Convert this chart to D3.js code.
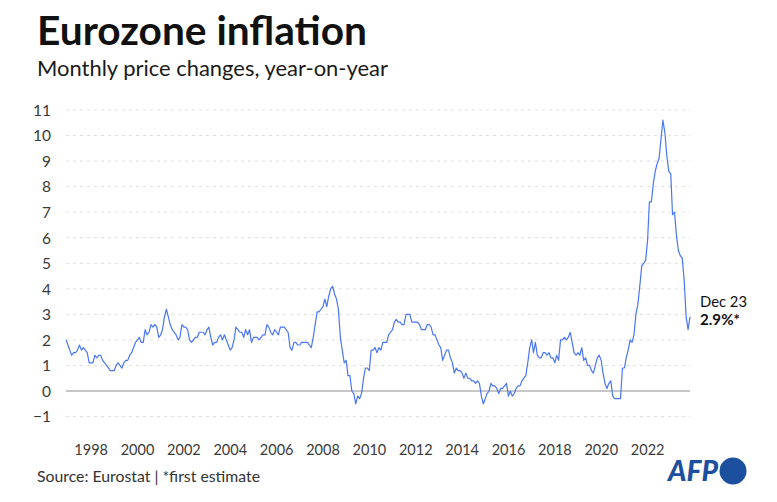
<!DOCTYPE html>
<html>
<head>
<meta charset="utf-8">
<script src="https://cdn.jsdelivr.net/npm/d3@7"></script>
<style>
  html, body { margin: 0; padding: 0; background: #fff; }
  svg { display: block; font-family: "Lato", "Noto Sans", sans-serif; }
</style>
</head>
<body>
<svg id="chart" width="777" height="502"></svg>
<script>
// ---------- DATA ----------
const startMonth = "1997-01";   // first observation
const inflation1997 = [2.0, 1.8, 1.6, 1.4, 1.5, 1.5, 1.6, 1.8, 1.6, 1.7, 1.6, 1.5];
const inflation1998 = [1.1, 1.1, 1.1, 1.4, 1.3, 1.4, 1.4, 1.2, 1.1, 1.0, 0.9, 0.8];
const inflation1999 = [0.8, 0.8, 1.0, 1.1, 1.0, 0.9, 1.1, 1.2, 1.2, 1.4, 1.5, 1.7];
const inflation2000 = [1.9, 2.0, 2.1, 1.9, 1.9, 2.4, 2.2, 2.3, 2.6, 2.5, 2.6, 2.5];
const inflation2001 = [2.1, 2.2, 2.4, 2.9, 3.2, 2.9, 2.6, 2.4, 2.3, 2.2, 2.0, 2.1];
const inflation2002 = [2.6, 2.5, 2.5, 2.4, 2.0, 1.9, 2.0, 2.1, 2.1, 2.3, 2.3, 2.3];
const inflation2003 = [2.2, 2.4, 2.5, 2.1, 1.8, 1.9, 1.9, 2.1, 2.2, 2.0, 2.2, 2.0];
const inflation2004 = [1.8, 1.6, 1.7, 2.0, 2.5, 2.4, 2.3, 2.3, 2.1, 2.4, 2.2, 2.4];
const inflation2005 = [1.9, 2.1, 2.1, 2.1, 2.0, 2.1, 2.2, 2.2, 2.6, 2.5, 2.3, 2.2];
const inflation2006 = [2.4, 2.3, 2.2, 2.5, 2.5, 2.5, 2.4, 2.3, 1.7, 1.6, 1.9, 1.9];
const inflation2007 = [1.8, 1.8, 1.9, 1.9, 1.9, 1.9, 1.8, 1.7, 2.1, 2.6, 3.1, 3.1];
const inflation2008 = [3.2, 3.3, 3.6, 3.3, 3.7, 4.0, 4.1, 3.8, 3.6, 3.2, 2.1, 1.6];
const inflation2009 = [1.1, 1.2, 0.6, 0.6, 0.0, -0.1, -0.5, -0.2, -0.3, -0.1, 0.5, 0.9];
const inflation2010 = [0.9, 0.8, 1.6, 1.6, 1.7, 1.5, 1.7, 1.6, 1.9, 1.9, 1.9, 2.2];
const inflation2011 = [2.3, 2.4, 2.7, 2.8, 2.7, 2.7, 2.6, 2.6, 3.0, 3.0, 3.0, 2.7];
const inflation2012 = [2.7, 2.7, 2.7, 2.6, 2.4, 2.4, 2.4, 2.6, 2.6, 2.5, 2.2, 2.2];
const inflation2013 = [2.0, 1.8, 1.7, 1.2, 1.4, 1.6, 1.6, 1.3, 1.1, 0.7, 0.9, 0.8];
const inflation2014 = [0.8, 0.7, 0.5, 0.7, 0.5, 0.5, 0.4, 0.4, 0.3, 0.4, 0.3, -0.2];
const inflation2015 = [-0.5, -0.3, -0.1, 0.0, 0.3, 0.2, 0.2, 0.1, -0.1, 0.1, 0.1, 0.2];
const inflation2016 = [0.3, -0.2, 0.0, -0.2, -0.1, 0.1, 0.2, 0.2, 0.4, 0.5, 0.6, 1.1];
const inflation2017 = [1.7, 2.0, 1.5, 1.9, 1.4, 1.3, 1.3, 1.5, 1.5, 1.4, 1.5, 1.3];
const inflation2018 = [1.3, 1.1, 1.4, 1.2, 2.0, 2.0, 2.1, 2.0, 2.1, 2.3, 1.9, 1.5];
const inflation2019 = [1.4, 1.5, 1.4, 1.7, 1.2, 1.3, 1.0, 1.0, 0.8, 0.7, 1.0, 1.3];
const inflation2020 = [1.4, 1.2, 0.7, 0.3, 0.1, 0.3, 0.4, -0.2, -0.3, -0.3, -0.3, -0.3];
const inflation2021 = [0.9, 0.9, 1.3, 1.6, 2.0, 1.9, 2.2, 3.0, 3.4, 4.1, 4.9, 5.0];
const inflation2022 = [5.1, 5.9, 7.4, 7.4, 8.1, 8.6, 8.9, 9.1, 9.9, 10.6, 10.1, 9.2];
const inflation2023 = [8.6, 8.5, 6.9, 7.0, 6.1, 5.5, 5.3, 5.2, 4.3, 2.9, 2.4, 2.9];

const yTicks = [-1, 0, 1, 2, 3, 4, 5, 6, 7, 8, 9, 10, 11];
const xTickYears = [1998, 2000, 2002, 2004, 2006, 2008, 2010, 2012, 2014, 2016, 2018, 2020, 2022];

const titleText = "Eurozone inflation";
const subtitleText = "Monthly price changes, year-on-year";
const sourceText = "Source: Eurostat | *first estimate";
const lastLabel = "Dec 23";
const lastValueLabel = "2.9%*";

// ---------- BUILD SERIES ----------
const allValues = [].concat(
  inflation1997, inflation1998, inflation1999, inflation2000, inflation2001,
  inflation2002, inflation2003, inflation2004, inflation2005, inflation2006,
  inflation2007, inflation2008, inflation2009, inflation2010, inflation2011,
  inflation2012, inflation2013, inflation2014, inflation2015, inflation2016,
  inflation2017, inflation2018, inflation2019, inflation2020, inflation2021,
  inflation2022, inflation2023
);
const start = d3.timeParse("%Y-%m")(startMonth);
const series = allValues.map((v, i) => ({ date: d3.timeMonth.offset(start, i), value: v }));

// ---------- LAYOUT ----------
const svg = d3.select("#chart");
const plot = { left: 66, right: 690, top: 110, bottom: 391 + 25.55 };

const x = d3.scaleTime()
  .domain([series[0].date, series[series.length - 1].date])
  .range([plot.left, plot.right]);
const y = d3.scaleLinear()
  .domain([0, 11])
  .range([391, 110]);

function fit(sel, target) {
  const w = sel.node().getComputedTextLength();
  const fs = parseFloat(sel.attr("font-size"));
  sel.attr("font-size", (fs * target / w).toFixed(2));
}

// Title / subtitle
const title = svg.append("text")
  .attr("x", 37).attr("y", 45)
  .attr("font-size", 38).attr("font-weight", 700).attr("fill", "#111")
  .text(titleText);
fit(title, 330);

const sub = svg.append("text")
  .attr("x", 37).attr("y", 76)
  .attr("font-size", 20).attr("fill", "#1a1a1a")
  .text(subtitleText);
fit(sub, 351);

// Grid
const grid = svg.append("g");
grid.selectAll("line")
  .data(yTicks.filter(d => d !== 0))
  .join("line")
  .attr("x1", plot.left).attr("x2", plot.right)
  .attr("y1", d => y(d)).attr("y2", d => y(d))
  .attr("stroke", "#dedede")
  .attr("stroke-width", 1)
  .attr("stroke-dasharray", "3,4");

// y axis
const yAxis = d3.axisLeft(y).tickValues(yTicks).tickSize(0).tickPadding(0)
  .tickFormat(d => d < 0 ? "\u2212" + Math.abs(d) : d);
const yg = svg.append("g").attr("transform", "translate(51,0)").call(yAxis);
yg.select(".domain").remove();
yg.selectAll("text")
  .attr("font-family", "Lato, sans-serif")
  .attr("font-size", 15.5)
  .attr("fill", "#3a3a3a")
  .attr("dy", "0.34em");

// Zero line
svg.append("line")
  .attr("x1", plot.left).attr("x2", plot.right)
  .attr("y1", y(0)).attr("y2", y(0))
  .attr("stroke", "#b4b4b4").attr("stroke-width", 1.3);

// x axis
const xAxis = d3.axisBottom(x)
  .tickValues(xTickYears.map(yr => new Date(yr, 0, 1)))
  .tickSize(0).tickPadding(0)
  .tickFormat(d3.timeFormat("%Y"));
const xg = svg.append("g").attr("transform", "translate(1.5,455)").call(xAxis);
xg.select(".domain").remove();
xg.selectAll("text")
  .attr("font-family", "Lato, sans-serif")
  .attr("font-size", 14.5)
  .attr("fill", "#3a3a3a")
  .attr("dy", 0);

// Line
const line = d3.line().x(d => x(d.date)).y(d => y(d.value));
svg.append("path")
  .datum(series)
  .attr("d", line)
  .attr("fill", "none")
  .attr("stroke", "#4a76f5")
  .attr("stroke-width", 1.2)
  .attr("stroke-linejoin", "round");

// End label
const l1 = svg.append("text")
  .attr("x", 700).attr("y", 307)
  .attr("font-size", 16).attr("fill", "#111")
  .text(lastLabel);
fit(l1, 47);
const l2 = svg.append("text")
  .attr("x", 700).attr("y", 324.5)
  .attr("font-size", 16).attr("font-weight", 700).attr("fill", "#111")
  .text(lastValueLabel);
fit(l2, 40);

// Source
const src = svg.append("text")
  .attr("x", 37).attr("y", 482)
  .attr("font-size", 17).attr("fill", "#333")
  .text(sourceText);
fit(src, 223);

// AFP logo
const logo = svg.append("g");
logo.append("circle")
  .attr("cx", 733).attr("cy", 471).attr("r", 13.5)
  .attr("fill", "#1d4f9f");
const afp = logo.append("text")
  .attr("x", 668).attr("y", 480.5)
  .attr("font-size", 20).attr("font-weight", 900).attr("font-style", "italic")
  .attr("fill", "#1d4f9f")
  .attr("font-family", "Lato, sans-serif")
  .text("AFP");
fit(afp, 50);
</script>
</body>
</html>
